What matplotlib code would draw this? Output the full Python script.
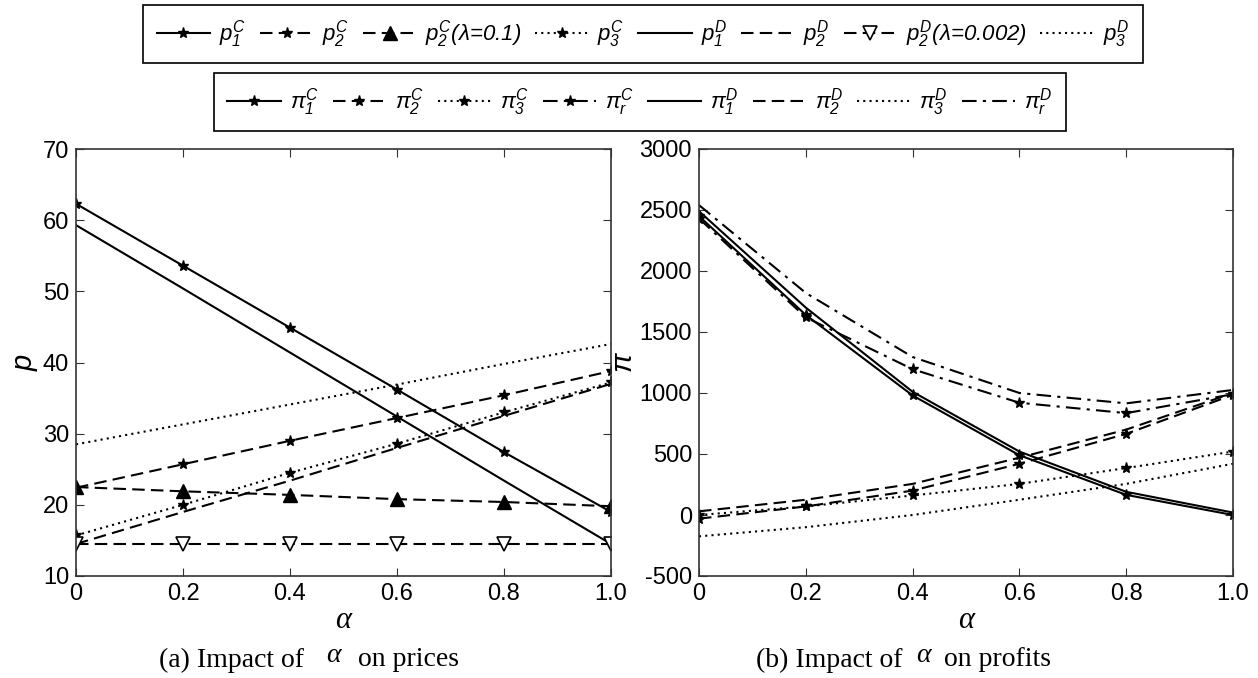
import matplotlib
matplotlib.use("Agg")
import matplotlib.pyplot as plt
from matplotlib.lines import Line2D

plt.rcParams['font.family'] = ['Liberation Sans', 'DejaVu Sans']
plt.rcParams['mathtext.fontset'] = 'custom'
plt.rcParams['mathtext.rm'] = 'Liberation Sans:italic'
plt.rcParams['mathtext.it'] = 'Liberation Sans:italic'
plt.rcParams['mathtext.bf'] = 'Liberation Sans:bold:italic'

# data
alpha = [0, 0.2, 0.4, 0.6, 0.8, 1.0]
xtick_labels = ['0', '0.2', '0.4', '0.6', '0.8', '1.0']
p_ticks = [10, 20, 30, 40, 50, 60, 70]
pi_ticks = [-500, 0, 500, 1000, 1500, 2000, 2500, 3000]

p1_C = [62.3, 53.6, 44.9, 36.2, 27.4, 19.0]
p2_C = [22.4, 25.7, 29.0, 32.2, 35.4, 38.8]
p2_C_lam = [22.5, 21.9, 21.4, 20.8, 20.4, 19.8]
p3_C = [15.7, 20.0, 24.5, 28.6, 33.0, 37.2]
p1_D = [59.3, 50.4, 41.4, 32.4, 23.4, 14.5]
p2_D = [14.5, 19.0, 23.4, 28.0, 32.5, 37.0]
p2_D_lam = [14.5, 14.5, 14.5, 14.5, 14.5, 14.5]
p3_D = [28.5, 31.3, 34.1, 36.9, 39.8, 42.6]

pi1_C = [2450, 1640, 980, 490, 165, 0]
pi2_C = [-30, 70, 200, 420, 665, 985]
pi3_C = [0, 70, 160, 255, 385, 520]
pir_C = [2430, 1620, 1195, 920, 835, 990]
pi1_D = [2490, 1700, 1010, 520, 190, 20]
pi2_D = [30, 125, 255, 470, 700, 1000]
pi3_D = [-175, -100, 0, 125, 255, 420]
pir_D = [2540, 1820, 1295, 1000, 915, 1025]

DASH = (0, (6, 3))
DOT = (0, (1, 2))
DASHDOT = (0, (7, 3, 1.5, 3))
LW = 1.5
MS = 8

fig = plt.figure(figsize=(12.58, 6.78), dpi=100)
W, H = 1258.0, 678.0
ax1 = fig.add_axes([76 / W, 1 - 576 / H, (611 - 76) / W, (576 - 149) / H])
ax2 = fig.add_axes([699 / W, 1 - 576 / H, (1233 - 699) / W, (576 - 149) / H])

# (a) prices
ax1.plot(alpha, p1_C, color='k', ls='-', lw=LW, marker='*', ms=MS)
ax1.plot(alpha, p2_C, color='k', ls=DASH, lw=LW, marker='*', ms=MS)
ax1.plot(alpha, p2_C_lam, color='k', ls=DASH, lw=LW, marker='^', ms=10)
ax1.plot(alpha, p3_C, color='k', ls=DOT, lw=LW, marker='*', ms=MS)
ax1.plot(alpha, p1_D, color='k', ls='-', lw=LW)
ax1.plot(alpha, p2_D, color='k', ls=DASH, lw=LW)
ax1.plot(alpha, p2_D_lam, color='k', ls=DASH, lw=LW, marker='v', ms=10,
         markerfacecolor='white', markeredgewidth=1.2)
ax1.plot(alpha, p3_D, color='k', ls=DOT, lw=LW)
ax1.set_ylim(10, 70)
ax1.set_yticks(p_ticks)
ax1.set_yticklabels([str(v) for v in p_ticks])
ax1.set_ylabel('$p$', fontsize=21)
ax1.yaxis.set_label_coords(-0.068, 0.5)

# (b) profits
ax2.plot(alpha, pi1_C, color='k', ls='-', lw=LW, marker='*', ms=MS)
ax2.plot(alpha, pi2_C, color='k', ls=DASH, lw=LW, marker='*', ms=MS)
ax2.plot(alpha, pi3_C, color='k', ls=DOT, lw=LW, marker='*', ms=MS)
ax2.plot(alpha, pir_C, color='k', ls=DASHDOT, lw=LW, marker='*', ms=MS)
ax2.plot(alpha, pi1_D, color='k', ls='-', lw=LW)
ax2.plot(alpha, pi2_D, color='k', ls=DASH, lw=LW)
ax2.plot(alpha, pi3_D, color='k', ls=DOT, lw=LW)
ax2.plot(alpha, pir_D, color='k', ls=DASHDOT, lw=LW)
ax2.set_ylim(-500, 3000)
ax2.set_yticks(pi_ticks)
ax2.set_yticklabels([str(v) for v in pi_ticks])
ax2.set_ylabel(r'$\pi$', fontsize=21)
ax2.yaxis.set_label_coords(-0.115, 0.5)

for ax in (ax1, ax2):
    ax.set_xlim(0, 1.0)
    ax.set_xticks(alpha)
    ax.set_xticklabels(xtick_labels)
    ax.tick_params(direction='in', top=True, right=True, length=6,
                   labelsize=17, color='#333333')
    ax.tick_params(axis='x', pad=5)
    ax.tick_params(axis='y', pad=5)
    for s in ax.spines.values():
        s.set_color('#333333')
        s.set_linewidth(1.2)
    ax.set_xlabel('α', family='Liberation Serif', style='italic', fontsize=22,
                  va='center')
    ax.xaxis.set_label_coords(0.5, -0.105)

# legends
row1 = [
    Line2D([], [], color='k', ls='-', lw=LW, marker='*', ms=MS),
    Line2D([], [], color='k', ls=DASH, lw=LW, marker='*', ms=MS),
    Line2D([], [], color='k', ls=DASH, lw=LW, marker='^', ms=10),
    Line2D([], [], color='k', ls=DOT, lw=LW, marker='*', ms=MS),
    Line2D([], [], color='k', ls='-', lw=LW),
    Line2D([], [], color='k', ls=DASH, lw=LW),
    Line2D([], [], color='k', ls=DASH, lw=LW, marker='v', ms=10,
           markerfacecolor='white', markeredgewidth=1.2),
    Line2D([], [], color='k', ls=DOT, lw=LW),
]
row1_labels = ['$p_1^C$', '$p_2^C$', '$p_2^C$(λ=0.1)', '$p_3^C$',
               '$p_1^D$', '$p_2^D$', '$p_2^D$(λ=0.002)', '$p_3^D$']
row2 = [
    Line2D([], [], color='k', ls='-', lw=LW, marker='*', ms=MS),
    Line2D([], [], color='k', ls=DASH, lw=LW, marker='*', ms=MS),
    Line2D([], [], color='k', ls=DOT, lw=LW, marker='*', ms=MS),
    Line2D([], [], color='k', ls=DASHDOT, lw=LW, marker='*', ms=MS),
    Line2D([], [], color='k', ls='-', lw=LW),
    Line2D([], [], color='k', ls=DASH, lw=LW),
    Line2D([], [], color='k', ls=DOT, lw=LW),
    Line2D([], [], color='k', ls=DASHDOT, lw=LW),
]
row2_labels = [r'$\pi_1^C$', r'$\pi_2^C$', r'$\pi_3^C$', r'$\pi_r^C$',
               r'$\pi_1^D$', r'$\pi_2^D$', r'$\pi_3^D$', r'$\pi_r^D$']

leg_kw = dict(ncol=8, loc='center', fancybox=False, edgecolor='k',
              handlelength=2.4, handletextpad=0.4, columnspacing=0.62,
              borderpad=0.6, framealpha=1,
              prop={'family': 'Liberation Sans', 'style': 'italic', 'size': 16})
leg1 = fig.legend(row1, row1_labels, bbox_to_anchor=(643 / W, 1 - 34 / H), **leg_kw)
leg2 = fig.legend(row2, row2_labels, bbox_to_anchor=(640 / W, 1 - 102 / H), **leg_kw)
for lg in (leg1, leg2):
    lg.get_frame().set_linewidth(1.2)

# captions
cap_kw = dict(family='Liberation Serif', fontsize=20, va='center')
fig.text(304 / W, 1 - 660 / H, '(a) Impact of', ha='right', **cap_kw)
fig.text(333 / W, 1 - 655 / H, 'α', style='italic', ha='center', **cap_kw)
fig.text(358 / W, 1 - 660 / H, 'on prices', ha='left', **cap_kw)
fig.text(902 / W, 1 - 660 / H, '(b) Impact of', ha='right', **cap_kw)
fig.text(923 / W, 1 - 655 / H, 'α', style='italic', ha='center', **cap_kw)
fig.text(944 / W, 1 - 660 / H, 'on profits', ha='left', **cap_kw)

fig.savefig('out.png', dpi=100)
